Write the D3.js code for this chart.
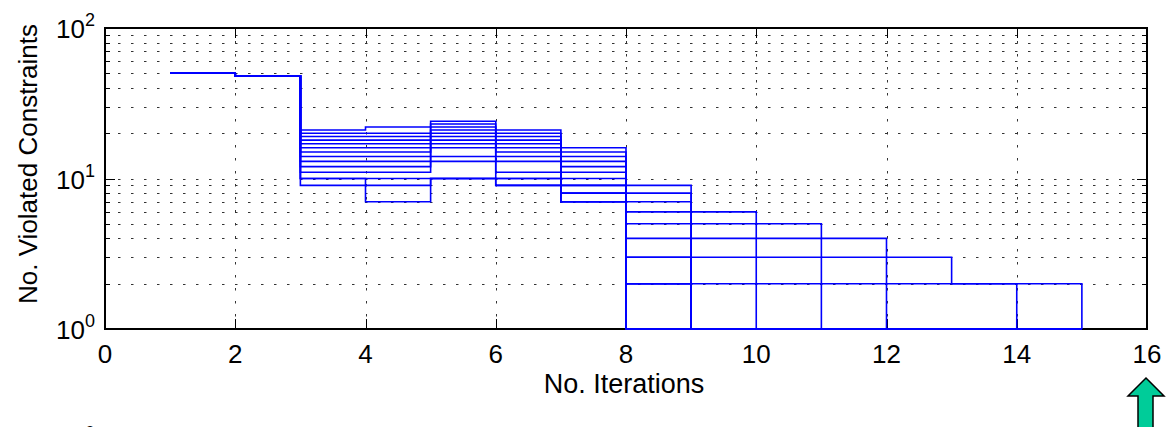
<!DOCTYPE html>
<html>
<head>
<meta charset="utf-8">
<script src="https://cdn.jsdelivr.net/npm/d3@7"></script>
<style>
  body { margin: 0; background: #fff; }
  text { font-family: "Liberation Sans", Arial, sans-serif; fill: #000; }
</style>
</head>
<body>
<svg width="1167" height="427"></svg>
<script>
// violated constraints per iteration, one array per run (iterations 1..15)
let run1  = [50, 48, 21, 22, 24, 21, 16, 9, 6, 5, 4, 3, 2, 2, 1]
let run2  = [50, 48, 20, 20, 23, 20, 15, 8, 5, 4, 3, 2, 2, 1, 1]
let run3  = [50, 48, 19, 19, 22, 19, 14, 7, 4, 3, 2, 1, 1, 1, 1]
let run4  = [50, 48, 18, 18, 21, 18, 13, 6, 3, 2, 1, 1, 1, 1, 1]
let run5  = [50, 48, 17, 17, 20, 17, 12, 5, 2, 1, 1, 1, 1, 1, 1]
let run6  = [50, 48, 16, 16, 19, 16, 11, 4, 1, 1, 1, 1, 1, 1, 1]
let run7  = [50, 48, 15, 15, 18, 15, 10, 3, 1, 1, 1, 1, 1, 1, 1]
let run8  = [50, 48, 14, 14, 17, 14, 9, 2, 1, 1, 1, 1, 1, 1, 1]
let run9  = [50, 48, 13, 13, 16, 13, 8, 1, 1, 1, 1, 1, 1, 1, 1]
let run10 = [50, 48, 12, 12, 14, 11, 7, 1, 1, 1, 1, 1, 1, 1, 1]
let run11 = [50, 48, 11, 11, 13, 10, 9, 2, 1, 1, 1, 1, 1, 1, 1]
let run12 = [50, 48, 10, 10, 10, 9, 8, 3, 1, 1, 1, 1, 1, 1, 1]
let run13 = [50, 48, 9, 9, 10, 9, 7, 1, 1, 1, 1, 1, 1, 1, 1]
let run14 = [50, 48, 10, 7, 10, 10, 7, 2, 1, 1, 1, 1, 1, 1, 1]
let runs = [run1, run2, run3, run4, run5, run6, run7, run8, run9, run10, run11, run12, run13, run14]

let xTicks = [0, 2, 4, 6, 8, 10, 12, 14, 16]
let yTicks = [1, 10, 100]
let yExponents = ['0', '1', '2']
let yMinor = [2, 3, 4, 5, 6, 7, 8, 9, 20, 30, 40, 50, 60, 70, 80, 90]

let padLeft = 105, padRight = 1147, padTop = 28, padBottom = 329

let xScale = d3.scaleLinear()
                .domain([0, 16])
                .range([padLeft, padRight])

let yScale = d3.scaleLog()
                .domain([1, 100])
                .range([padBottom, padTop])

let svg = d3.select('svg')

// grid
let grid = svg.append('g')
              .attr('stroke', '#333')
              .attr('stroke-width', 1)
              .attr('stroke-dasharray', '2.5,10.5')

grid.selectAll('.hgrid')
  .data(yMinor.concat([10]))
  .enter()
  .append('line')
    .attr('x1', padLeft)
    .attr('x2', padRight)
    .attr('y1', d => Math.round(yScale(d)) + 0.5)
    .attr('y2', d => Math.round(yScale(d)) + 0.5)

grid.selectAll('.vgrid')
  .data(xTicks.slice(1, -1))
  .enter()
  .append('line')
    .attr('x1', d => Math.round(xScale(d)) + 0.5)
    .attr('x2', d => Math.round(xScale(d)) + 0.5)
    .attr('y1', padTop)
    .attr('y2', padBottom)

// ticks (inward, on all four sides)
let ticks = svg.append('g').attr('stroke', '#000').attr('stroke-width', 1)

xTicks.forEach(d => {
  let px = Math.round(xScale(d)) + 0.5
  ticks.append('line').attr('x1', px).attr('x2', px).attr('y1', padBottom).attr('y2', padBottom - 10)
  ticks.append('line').attr('x1', px).attr('x2', px).attr('y1', padTop).attr('y2', padTop + 10)
})

yTicks.concat(yMinor).forEach(d => {
  let py = Math.round(yScale(d)) + 0.5
  let len = yTicks.includes(d) ? 10 : 5
  ticks.append('line').attr('x1', padLeft).attr('x2', padLeft + len).attr('y1', py).attr('y2', py)
  ticks.append('line').attr('x1', padRight).attr('x2', padRight - len).attr('y1', py).attr('y2', py)
})

// box
svg.append('rect')
    .attr('x', padLeft)
    .attr('y', padTop)
    .attr('width', padRight - padLeft)
    .attr('height', padBottom - padTop)
    .attr('fill', 'none')
    .attr('stroke', '#000')
    .attr('stroke-width', 2)

// stair traces
let stairs = d3.line()
                .x((d, i) => xScale(i + 1))
                .y(d => yScale(d))
                .curve(d3.curveStepAfter)

svg.append('g')
  .selectAll('path')
  .data(runs)
  .enter()
  .append('path')
    .attr('d', stairs)
    .attr('fill', 'none')
    .attr('stroke', '#0000ff')
    .attr('stroke-width', 1.6)

// x tick labels
svg.append('g')
  .selectAll('text')
  .data(xTicks)
  .enter()
  .append('text')
    .attr('x', d => xScale(d))
    .attr('y', 363)
    .style('text-anchor', 'middle')
    .style('font-size', '26px')
    .text(d => d)

// y tick labels 10^n
let yLabels = svg.append('g')
  .selectAll('text')
  .data(yTicks)
  .enter()
  .append('text')
    .attr('x', 95)
    .attr('y', d => yScale(d) + 10)
    .style('text-anchor', 'end')
    .style('font-size', '26px')

yLabels.append('tspan').text('10')
yLabels.append('tspan')
    .attr('dy', '-0.65em')
    .style('font-size', '18px')
    .text((d, i) => yExponents[i])

// axis titles
svg.append('text')
    .attr('x', 624)
    .attr('y', 393)
    .style('text-anchor', 'middle')
    .style('font-size', '27px')
    .text('No. Iterations')

svg.append('text')
    .attr('transform', 'rotate(-90)')
    .attr('x', -164)
    .attr('y', 37)
    .style('text-anchor', 'middle')
    .style('font-size', '26px')
    .text('No. Violated Constraints')

// stray label fragment at the bottom edge
svg.append('text')
    .attr('x', 90)
    .attr('y', 439)
    .style('font-size', '18px')
    .style('text-anchor', 'middle')
    .text('0')

// green arrow
let arrowPts = [[1146, 378], [1164, 396], [1153, 396], [1153, 432], [1138, 432], [1138, 396], [1128, 396]]
svg.append('polygon')
    .attr('points', arrowPts.map(p => p.join(',')).join(' '))
    .attr('fill', '#00cc99')
    .attr('stroke', '#000')
    .attr('stroke-width', 1.5)
</script>
</body>
</html>
